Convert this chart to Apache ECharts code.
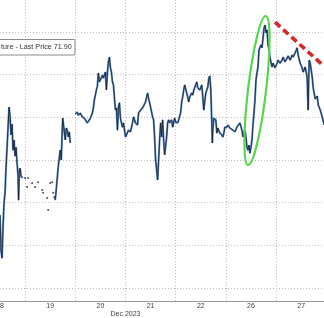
<!DOCTYPE html>
<html><head><meta charset="utf-8">
<script src="https://cdn.jsdelivr.net/npm/echarts@6/dist/echarts.min.js"></script>
<style>html,body{margin:0;padding:0;background:#fff;overflow:hidden}#c{width:324px;height:318px}</style>
</head><body><div id="c"></div>
<script>
// ---- data (x = trading-day index, 1 unit per session; y = price) ----
const dayLabels = ['18','19','20','21','22','26','27'];
const monthLabel = 'Dec 2023';
const gridPrices = [70,71,72,73,74,75,76];
const dayBoundaries = [1,2,3,4,5,6];
const legendText = 'ture - Last Price 71.90';

const seg18 = [[0.50,71.71],[0.52,70.89],[0.54,70.70],[0.56,71.41],[0.58,71.99],[0.60,72.23],[0.62,72.81],[0.64,73.28],[0.66,73.75],[0.68,74.24],[0.70,74.03],[0.72,73.59],[0.74,73.84],[0.76,73.23],[0.78,73.47],[0.80,73.09],[0.82,73.30],[0.84,72.93],[0.86,72.62],[0.87,72.06],[0.885,72.72],[0.90,72.81],[0.92,72.62],[0.95,72.58]];
const sparse19 = [[1.00,72.58],[1.04,72.37],[1.06,72.58],[1.14,72.46],[1.20,72.37],[1.26,72.48],[1.34,72.30],[1.36,72.23],[1.44,72.11],[1.46,71.83],[1.50,72.46],[1.54,72.48],[1.56,72.23],[1.58,72.13]];
const seg19 = [[1.60,72.06],[1.62,72.30],[1.66,72.84],[1.70,73.23],[1.72,73.00],[1.74,73.70],[1.75,73.98],[1.76,74.01],[1.78,74.01],[1.80,73.47],[1.82,73.75],[1.84,73.70],[1.86,73.54],[1.88,73.66],[1.90,73.40]];
const seg20 = [[2.00,74.08],[2.04,74.12],[2.06,74.05],[2.10,74.10],[2.14,74.01],[2.18,73.98],[2.20,73.94],[2.24,73.87],[2.26,73.91],[2.30,73.98],[2.34,74.10],[2.36,74.22],[2.38,74.41],[2.42,74.64],[2.44,74.73],[2.46,75.04],[2.48,74.83],[2.50,74.88],[2.54,74.99],[2.56,74.92],[2.60,75.06],[2.62,74.64],[2.64,75.06],[2.66,75.30],[2.68,75.41],[2.70,75.16],[2.72,75.06],[2.74,74.83],[2.76,74.76],[2.78,74.45],[2.80,74.17],[2.82,74.22],[2.84,73.70],[2.86,74.24],[2.88,74.34],[2.90,73.98],[2.92,73.94],[2.94,73.77],[2.96,73.87],[3.00,73.54]];
const seg21 = [[3.02,73.59],[3.04,73.59],[3.06,73.70],[3.10,73.66],[3.14,73.87],[3.16,74.01],[3.20,73.87],[3.24,73.82],[3.26,74.10],[3.30,74.17],[3.34,74.22],[3.36,74.24],[3.40,74.36],[3.44,74.57],[3.46,74.45],[3.50,74.24],[3.54,74.01],[3.56,73.94],[3.58,73.54],[3.60,73.00],[3.62,72.77],[3.64,72.53],[3.66,73.00],[3.68,73.47],[3.70,73.87],[3.72,73.54],[3.74,73.94],[3.76,73.47],[3.78,73.12],[3.82,73.54],[3.84,73.87],[3.86,73.94],[3.88,73.87],[3.92,73.94],[3.94,73.77],[3.98,73.98],[4.00,73.89]];
const seg22 = [[4.04,73.87],[4.06,73.94],[4.10,74.12],[4.12,74.36],[4.14,74.48],[4.16,74.64],[4.18,74.76],[4.22,74.57],[4.24,74.48],[4.26,74.36],[4.28,74.48],[4.32,74.57],[4.34,74.52],[4.36,74.64],[4.40,74.76],[4.42,74.83],[4.44,74.69],[4.48,74.64],[4.52,74.76],[4.54,74.48],[4.56,74.17],[4.60,74.57],[4.62,74.64],[4.64,74.71],[4.66,74.92],[4.68,74.97],[4.70,74.64],[4.72,73.87],[4.73,73.40],[4.74,73.70],[4.76,73.98],[4.80,73.94],[4.82,73.63],[4.84,73.75],[4.88,73.63],[4.92,73.59],[4.94,73.54],[4.96,73.63],[4.98,73.77]];
const seg26 = [[5.02,73.77],[5.04,73.82],[5.08,73.75],[5.14,73.70],[5.18,73.66],[5.22,73.77],[5.28,73.87],[5.32,73.70],[5.34,73.54],[5.38,73.70],[5.40,73.54],[5.42,73.30],[5.44,73.23],[5.46,73.35],[5.48,73.16],[5.50,73.30],[5.52,73.47],[5.54,73.82],[5.56,74.10],[5.58,74.41],[5.60,74.88],[5.62,75.04],[5.64,75.18],[5.66,75.58],[5.70,75.70],[5.72,75.63],[5.74,75.86],[5.76,76.09],[5.78,76.16],[5.80,75.98],[5.82,76.05],[5.84,75.70],[5.86,75.58],[5.88,75.39],[5.92,75.18],[5.94,75.27],[5.98,75.16]];
const seg27 = [[6.02,75.27],[6.04,75.34],[6.08,75.27],[6.12,75.34],[6.14,75.41],[6.18,75.30],[6.22,75.39],[6.24,75.44],[6.28,75.34],[6.32,75.46],[6.34,75.41],[6.38,75.51],[6.42,75.63],[6.44,75.46],[6.48,75.27],[6.52,75.16],[6.54,75.06],[6.58,75.18],[6.60,75.06],[6.62,74.92],[6.63,74.48],[6.64,74.17],[6.65,74.88],[6.66,75.34],[6.68,75.27],[6.70,75.11],[6.72,74.95],[6.74,74.69],[6.78,74.43],[6.82,74.50],[6.84,74.29],[6.88,74.17],[6.92,74.01],[6.94,73.91],[6.96,73.82]];

// annotations (in data coordinates)
const trendStart = [5.98, 76.23];
const trendEnd = [6.955, 75.20];
const ellipseCenter = [5.62, 74.63];

// ---- chart ----
const X_MIN = 0.5, X_MAX = 6.955, Y_MIN = 69.696, Y_MAX = 76.75;
const chart = echarts.init(document.getElementById('c'), null, {renderer: 'canvas'});
const segMain = [].concat(seg20, seg21, seg22, seg26, seg27);
const segments = [seg18, seg19, segMain];
const FONT = 'Liberation Sans, Arial, sans-serif';

const series = [];
series.push({
  type: 'line', data: [], silent: true, animation: false,
  markLine: {
    silent: true, symbol: 'none', animation: false, z: 0,
    label: {show: false},
    lineStyle: {color: '#bdbdbd', type: [1, 2], width: 1},
    data: gridPrices.map(v => ({yAxis: v})).concat(dayBoundaries.map(v => ({xAxis: v})))
  }
});
segments.forEach(s => {
  series.push({type: 'line', data: s, symbol: 'none', silent: true, animation: false, z: 3,
    lineStyle: {color: '#5f8cc6', width: 2.0}});
});
segments.forEach((s, i) => {
  const o = {type: 'line', data: s, symbol: 'none', silent: true, animation: false, z: 4,
    lineStyle: {color: '#141a26', width: 0.8}};
  if (i === 2) {
    o.markLine = {
      silent: true, symbol: 'none', animation: false, z: 6,
      label: {show: false},
      lineStyle: {color: '#d42a2a', width: 3.6, type: [7, 4]},
      data: [[{coord: trendStart}, {coord: trendEnd}]]
    };
  }
  series.push(o);
});
series.push({type: 'scatter', data: sparse19, symbolSize: 2, silent: true, animation: false, z: 4,
  itemStyle: {color: '#222'}});

chart.setOption({
  animation: false,
  grid: {left: 0, right: 0, top: 0, bottom: 17, containLabel: false},
  xAxis: {
    type: 'value', min: X_MIN, max: X_MAX, interval: 1,
    axisLine: {show: true, lineStyle: {color: '#9a9a9a', width: 1}},
    axisTick: {show: false},
    splitLine: {show: false},
    axisLabel: {
      show: true, margin: 2, fontSize: 7, color: '#444', fontFamily: FONT,
      showMaxLabel: false, showMinLabel: false, hideOverlap: false,
      formatter: v => {
        const k = Math.round(v - 0.5);
        return k > 0 && Math.abs(v - 0.5 - k) < 0.01 && dayLabels[k] ? dayLabels[k] : '';
      }
    }
  },
  yAxis: {
    type: 'value', min: Y_MIN, max: Y_MAX, show: false,
    splitLine: {show: false}
  },
  series: series
});

const c = chart.convertToPixel({gridIndex: 0}, ellipseCenter);
const monthPos = chart.convertToPixel({gridIndex: 0}, [3, Y_MIN]);
const firstPos = chart.convertToPixel({gridIndex: 0}, [0.5, Y_MIN]);
chart.setOption({
  graphic: [
    {type: 'ellipse', silent: true, z: 100, x: c[0], y: c[1], rotation: -0.118,
      shape: {cx: 0, cy: 0, rx: 9, ry: 75},
      style: {fill: 'none', stroke: '#58d64b', lineWidth: 2.2}},
    {type: 'rect', silent: true, z: 100, shape: {x: -2, y: 39.5, width: 77, height: 15.5, r: 1},
      style: {fill: '#fff', stroke: '#8a8a8a', lineWidth: 1}},
    {type: 'text', silent: true, z: 101, x: 1, y: 47.5,
      style: {text: legendText, fill: '#333', fontSize: 7.2, fontFamily: FONT,
        textAlign: 'left', textVerticalAlign: 'middle'}},
    {type: 'text', silent: true, z: 101, x: firstPos[0], y: firstPos[1] + 2,
      style: {text: dayLabels[0], fill: '#444', fontSize: 7, fontFamily: FONT,
        textAlign: 'center', textVerticalAlign: 'top'}},
    {type: 'text', silent: true, z: 101, x: monthPos[0], y: 314.5,
      style: {text: monthLabel, fill: '#444', fontSize: 7, fontFamily: FONT,
        textAlign: 'center', textVerticalAlign: 'middle'}}
  ]
});
</script>
</body></html>
